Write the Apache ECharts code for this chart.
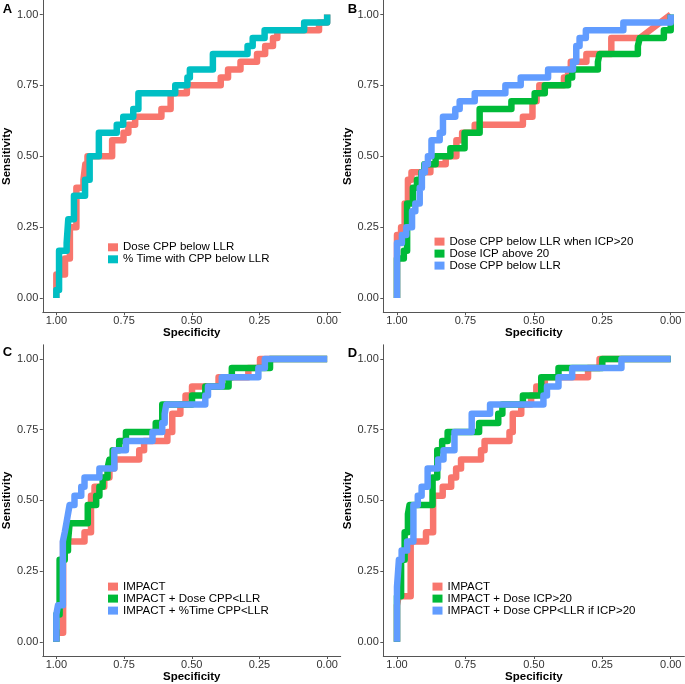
<!DOCTYPE html>
<html>
<head>
<meta charset="utf-8">
<script src="https://cdn.jsdelivr.net/npm/echarts@6/dist/echarts.min.js"></script>
<style>
html,body{margin:0;padding:0;background:#fff;}
#chart{width:685px;height:684px;}
</style>
</head>
<body>
<div id="chart"></div>
<script>
// ---------- Data: [specificity, sensitivity] ----------
const tickValues = [0, 0.25, 0.5, 0.75, 1];

// Panel A
const A_doseCPP = [[1,0],[1,0.083],[0.968,0.083],[0.968,0.139],[0.95,0.139],[0.95,0.25],[0.926,0.25],[0.926,0.389],[0.9,0.389],[0.9,0.417],[0.893,0.417],[0.893,0.472],[0.885,0.472],[0.885,0.5],[0.794,0.5],[0.794,0.556],[0.752,0.556],[0.752,0.583],[0.734,0.583],[0.734,0.611],[0.709,0.611],[0.709,0.639],[0.612,0.639],[0.612,0.667],[0.578,0.667],[0.578,0.722],[0.518,0.722],[0.518,0.75],[0.393,0.75],[0.393,0.778],[0.366,0.778],[0.366,0.806],[0.32,0.806],[0.32,0.833],[0.259,0.833],[0.259,0.861],[0.229,0.861],[0.229,0.889],[0.2,0.889],[0.2,0.917],[0.184,0.917],[0.184,0.944],[0.03,0.944],[0.03,0.972],[0,0.972],[0,1]];
const A_timeCPP = [[1,0],[1,0.028],[0.99,0.028],[0.99,0.167],[0.962,0.167],[0.962,0.194],[0.956,0.194],[0.956,0.278],[0.935,0.278],[0.935,0.361],[0.894,0.361],[0.894,0.417],[0.877,0.417],[0.877,0.5],[0.843,0.5],[0.843,0.583],[0.777,0.583],[0.777,0.611],[0.753,0.611],[0.753,0.639],[0.716,0.639],[0.716,0.667],[0.697,0.667],[0.697,0.722],[0.561,0.722],[0.561,0.75],[0.516,0.75],[0.516,0.778],[0.507,0.778],[0.507,0.806],[0.422,0.806],[0.422,0.861],[0.294,0.861],[0.294,0.889],[0.275,0.889],[0.275,0.917],[0.231,0.917],[0.231,0.944],[0.085,0.944],[0.085,0.972],[0,0.972],[0,1]];

// Panel B
const B_doseCPPicp = [[1,0],[1,0.222],[0.985,0.222],[0.985,0.25],[0.972,0.25],[0.972,0.333],[0.96,0.333],[0.96,0.417],[0.947,0.417],[0.947,0.444],[0.878,0.444],[0.878,0.472],[0.822,0.472],[0.822,0.5],[0.783,0.5],[0.783,0.556],[0.762,0.556],[0.762,0.583],[0.716,0.583],[0.716,0.611],[0.54,0.611],[0.54,0.639],[0.505,0.639],[0.505,0.694],[0.49,0.694],[0.49,0.722],[0.48,0.722],[0.48,0.75],[0.39,0.75],[0.39,0.778],[0.375,0.778],[0.375,0.806],[0.365,0.806],[0.365,0.833],[0.308,0.833],[0.308,0.861],[0.217,0.861],[0.217,0.917],[0.113,0.917],[0,1]];
const B_doseICP = [[1,0],[1,0.139],[0.975,0.139],[0.975,0.167],[0.963,0.167],[0.963,0.333],[0.942,0.333],[0.942,0.389],[0.927,0.389],[0.927,0.417],[0.911,0.417],[0.911,0.444],[0.9,0.444],[0.9,0.472],[0.859,0.472],[0.859,0.5],[0.805,0.5],[0.805,0.528],[0.753,0.528],[0.753,0.583],[0.698,0.583],[0.698,0.667],[0.582,0.667],[0.582,0.694],[0.497,0.694],[0.497,0.722],[0.46,0.722],[0.46,0.75],[0.375,0.75],[0.375,0.778],[0.36,0.778],[0.36,0.806],[0.266,0.806],[0.266,0.833],[0.26,0.833],[0.26,0.861],[0.12,0.861],[0.12,0.889],[0.113,0.889],[0.113,0.917],[0.025,0.917],[0.025,0.944],[0,0.944],[0,1]];
const B_doseCPP = [[1,0],[1,0.194],[0.982,0.194],[0.982,0.222],[0.966,0.222],[0.966,0.25],[0.945,0.25],[0.945,0.306],[0.933,0.306],[0.933,0.333],[0.917,0.333],[0.917,0.389],[0.909,0.389],[0.909,0.444],[0.898,0.444],[0.898,0.472],[0.887,0.472],[0.887,0.5],[0.874,0.5],[0.874,0.556],[0.844,0.556],[0.844,0.583],[0.832,0.583],[0.832,0.639],[0.787,0.639],[0.787,0.667],[0.771,0.667],[0.771,0.694],[0.716,0.694],[0.716,0.722],[0.604,0.722],[0.604,0.75],[0.548,0.75],[0.548,0.778],[0.448,0.778],[0.448,0.806],[0.357,0.806],[0.357,0.833],[0.345,0.833],[0.345,0.889],[0.333,0.889],[0.333,0.917],[0.31,0.917],[0.31,0.944],[0.173,0.944],[0.173,0.972],[0,0.972],[0,1]];

// Panel C
const C_impact = [[1,0],[1,0.032],[0.975,0.032],[0.975,0.355],[0.896,0.355],[0.896,0.387],[0.872,0.387],[0.872,0.516],[0.859,0.516],[0.859,0.548],[0.823,0.548],[0.823,0.581],[0.804,0.581],[0.804,0.613],[0.786,0.613],[0.786,0.645],[0.694,0.645],[0.694,0.677],[0.676,0.677],[0.676,0.71],[0.59,0.71],[0.59,0.742],[0.572,0.742],[0.572,0.806],[0.542,0.806],[0.542,0.839],[0.523,0.839],[0.523,0.871],[0.499,0.871],[0.499,0.903],[0.401,0.903],[0.401,0.935],[0.291,0.935],[0.291,0.968],[0.248,0.968],[0.248,1],[0,1]];
const C_impactDose = [[1,0],[1,0.097],[0.988,0.097],[0.988,0.29],[0.969,0.29],[0.969,0.323],[0.957,0.323],[0.957,0.355],[0.951,0.355],[0.951,0.419],[0.884,0.419],[0.884,0.484],[0.853,0.484],[0.853,0.516],[0.841,0.516],[0.841,0.548],[0.829,0.548],[0.829,0.581],[0.811,0.581],[0.811,0.613],[0.804,0.613],[0.804,0.645],[0.792,0.645],[0.792,0.677],[0.768,0.677],[0.768,0.71],[0.743,0.71],[0.743,0.742],[0.633,0.742],[0.633,0.774],[0.609,0.774],[0.609,0.839],[0.499,0.839],[0.499,0.871],[0.45,0.871],[0.45,0.903],[0.364,0.903],[0.364,0.935],[0.352,0.935],[0.352,0.968],[0.211,0.968],[0.211,1],[0,1]];
const C_impactTime = [[1,0],[1,0.097],[0.994,0.097],[0.994,0.129],[0.976,0.129],[0.976,0.355],[0.969,0.355],[0.969,0.387],[0.963,0.387],[0.963,0.419],[0.957,0.419],[0.957,0.452],[0.951,0.452],[0.951,0.484],[0.933,0.484],[0.933,0.516],[0.908,0.516],[0.908,0.548],[0.896,0.548],[0.896,0.581],[0.841,0.581],[0.841,0.613],[0.786,0.613],[0.786,0.677],[0.743,0.677],[0.743,0.71],[0.645,0.71],[0.645,0.742],[0.609,0.742],[0.609,0.774],[0.6,0.774],[0.6,0.806],[0.594,0.806],[0.594,0.839],[0.45,0.839],[0.45,0.871],[0.44,0.871],[0.44,0.903],[0.389,0.903],[0.389,0.935],[0.254,0.935],[0.254,0.968],[0.23,0.968],[0.23,1],[0,1]];

// Panel D
const D_impact = [[1,0],[1,0.129],[0.994,0.129],[0.994,0.161],[0.95,0.161],[0.95,0.355],[0.894,0.355],[0.894,0.387],[0.868,0.387],[0.868,0.516],[0.833,0.516],[0.833,0.548],[0.802,0.548],[0.802,0.581],[0.784,0.581],[0.784,0.613],[0.766,0.613],[0.766,0.645],[0.693,0.645],[0.693,0.677],[0.68,0.677],[0.68,0.71],[0.589,0.71],[0.589,0.742],[0.577,0.742],[0.577,0.806],[0.546,0.806],[0.546,0.839],[0.51,0.839],[0.51,0.871],[0.491,0.871],[0.491,0.903],[0.46,0.903],[0.46,0.935],[0.302,0.935],[0.302,0.968],[0.26,0.968],[0.26,1],[0,1]];
const D_impactICP = [[1,0],[1,0.161],[0.985,0.161],[0.985,0.29],[0.972,0.29],[0.972,0.387],[0.96,0.387],[0.96,0.452],[0.954,0.452],[0.954,0.484],[0.87,0.484],[0.87,0.581],[0.853,0.581],[0.853,0.677],[0.835,0.677],[0.835,0.71],[0.815,0.71],[0.815,0.742],[0.7,0.742],[0.7,0.774],[0.63,0.774],[0.63,0.806],[0.615,0.806],[0.615,0.839],[0.54,0.839],[0.54,0.871],[0.473,0.871],[0.473,0.935],[0.41,0.935],[0.41,0.968],[0.25,0.968],[0.25,1],[0,1]];
const D_impactCPPicp = [[1,0],[1,0.194],[0.993,0.194],[0.993,0.29],[0.983,0.29],[0.983,0.323],[0.963,0.323],[0.963,0.355],[0.94,0.355],[0.94,0.484],[0.924,0.484],[0.924,0.516],[0.91,0.516],[0.91,0.548],[0.888,0.548],[0.888,0.613],[0.85,0.613],[0.85,0.645],[0.83,0.645],[0.83,0.677],[0.79,0.677],[0.79,0.742],[0.727,0.742],[0.727,0.806],[0.66,0.806],[0.66,0.839],[0.465,0.839],[0.465,0.871],[0.452,0.871],[0.452,0.903],[0.41,0.903],[0.41,0.935],[0.36,0.935],[0.36,0.968],[0.18,0.968],[0.18,1],[0,1]];

const panelLetters = ['A', 'B', 'C', 'D'];
const xTitle = 'Specificity';
const yTitle = 'Sensitivity';

const RED = '#F8766D', TEAL = '#00BFC4', GREEN = '#00BA38', BLUE = '#619CFF';

const panels = [
  { series: [
      { name: 'Dose CPP below LLR', data: A_doseCPP, color: RED },
      { name: '% Time with CPP below LLR', data: A_timeCPP, color: TEAL } ],
    legend: { left: 108, top: 241.3 } },
  { series: [
      { name: 'Dose CPP below LLR when ICP>20', data: B_doseCPPicp, color: RED },
      { name: 'Dose ICP above 20', data: B_doseICP, color: GREEN },
      { name: 'Dose CPP below LLR ', data: B_doseCPP, color: BLUE } ],
    legend: { left: 434.5, top: 235.6 } },
  { series: [
      { name: 'IMPACT', data: C_impact, color: RED },
      { name: 'IMPACT + Dose CPP<LLR', data: C_impactDose, color: GREEN },
      { name: 'IMPACT + %Time CPP<LLR', data: C_impactTime, color: BLUE } ],
    legend: { left: 108, top: 580.6 } },
  { series: [
      { name: 'IMPACT ', data: D_impact, color: RED },
      { name: 'IMPACT + Dose ICP>20', data: D_impactICP, color: GREEN },
      { name: 'IMPACT + Dose CPP<LLR if ICP>20', data: D_impactCPPicp, color: BLUE } ],
    legend: { left: 432.5, top: 580.6 } }
];

const grids = [
  { left: 39.3, top: 0.3, width: 301.4, height: 311.9 },
  { left: 383.3, top: 0.3, width: 301.1, height: 311.9 },
  { left: 39.3, top: 344.8, width: 301.4, height: 312.7 },
  { left: 383.3, top: 344.8, width: 301.1, height: 312.7 }
];
const letterPos = [[7.5, 9], [352.5, 9], [7.5, 352.5], [352.5, 353]];

const FONT = '"Liberation Sans", Arial, sans-serif';
const AXIS_COLOR = '#555';

function axisCommon() {
  return {
    type: 'value', min: -0.05, max: 1.05,
    axisLine: { show: true, onZero: false, lineStyle: { color: AXIS_COLOR, width: 1 } },
    axisTick: { show: true, customValues: tickValues, length: 3, lineStyle: { color: AXIS_COLOR, width: 1 } },
    axisLabel: { show: true, customValues: tickValues, formatter: v => Number(v).toFixed(2),
                 fontSize: 11, color: '#333', fontFamily: FONT },
    splitLine: { show: false },
    nameLocation: 'middle',
    nameTextStyle: { fontSize: 11.5, fontWeight: 'bold', color: '#000', fontFamily: FONT }
  };
}

const option = {
  animation: false,
  backgroundColor: '#fff',
  grid: grids.map(g => Object.assign({ containLabel: false }, g)),
  xAxis: grids.map((g, i) => {
    const a = axisCommon();
    a.gridIndex = i; a.inverse = true; a.name = xTitle; a.nameGap = 15;
    a.axisLabel.margin = 3;
    return a;
  }),
  yAxis: grids.map((g, i) => {
    const a = axisCommon();
    a.gridIndex = i; a.name = yTitle; a.nameGap = 27;
    a.axisLabel.margin = 4.5;
    return a;
  }),
  legend: panels.map(p => ({
    orient: 'vertical', left: p.legend.left, top: p.legend.top,
    itemWidth: 10, itemHeight: 8, itemGap: 0, padding: 0, icon: 'rect',
    selectedMode: false,
    data: p.series.map(s => ({ name: s.name, itemStyle: { color: s.color } })),
    textStyle: { fontSize: 11.5, color: '#000', fontFamily: FONT, lineHeight: 10.9 }
  })),
  graphic: panelLetters.map((t, i) => ({
    type: 'text', x: letterPos[i][0], y: letterPos[i][1],
    style: { text: t, font: 'bold 13px "Liberation Sans", Arial, sans-serif',
             fill: '#000', textAlign: 'center', textVerticalAlign: 'middle' }
  })),
  series: []
};

panels.forEach((p, i) => {
  p.series.forEach(s => {
    option.series.push({
      type: 'line', name: s.name, xAxisIndex: i, yAxisIndex: i,
      data: s.data, showSymbol: false, symbol: 'none', silent: true,
      color: s.color,
      lineStyle: { color: s.color, width: 6.5, cap: 'butt', join: 'round' }
    });
  });
});

const chart = echarts.init(document.getElementById('chart'), null, { renderer: 'canvas' });
chart.setOption(option);
</script>
</body>
</html>
